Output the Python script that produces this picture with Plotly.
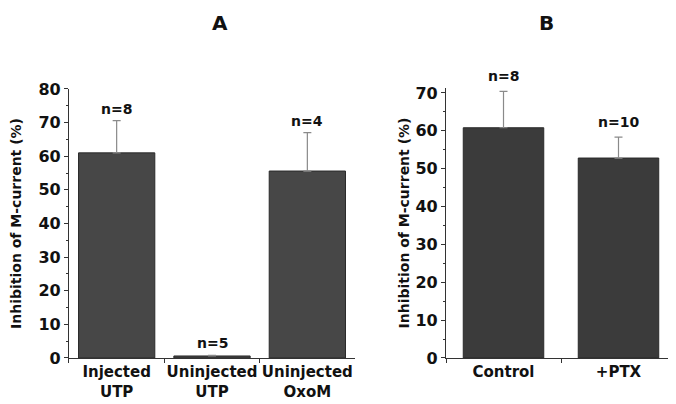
import plotly.graph_objects as go

# Panel A data
cats_a = ["Injected<br>UTP", "Uninjected<br>UTP", "Uninjected<br>OxoM"]
vals_a = [61.0, 0.6, 55.6]
err_a = [9.6, 0.2, 11.4]
n_a = ["n=8", "n=5", "n=4"]

# Panel B data
cats_b = ["Control", "+PTX"]
vals_b = [60.8, 52.8]
err_b = [9.6, 5.5]
n_b = ["n=8", "n=10"]

FONT = "DejaVu Sans, Arial, sans-serif"
ax_col = "#333333"

fig = go.Figure()
fig.add_trace(go.Bar(
    x=cats_a, y=vals_a, width=0.8, xaxis="x", yaxis="y",
    marker=dict(color="#474747", line=dict(color="#2a2a2a", width=1)),
    error_y=dict(type="data", array=err_a, arrayminus=[0]*3, symmetric=False,
                 color="#8a8a8a", thickness=1.2, width=4),
    showlegend=False))
fig.add_trace(go.Bar(
    x=cats_b, y=vals_b, width=0.7, xaxis="x2", yaxis="y2",
    marker=dict(color="#3b3b3b", line=dict(color="#2a2a2a", width=1)),
    error_y=dict(type="data", array=err_b, arrayminus=[0]*2, symmetric=False,
                 color="#8a8a8a", thickness=1.2, width=4),
    showlegend=False))

ann = []
for c, v, e, t in zip(cats_a, vals_a, err_a, n_a):
    ann.append(dict(x=c, y=v + e, xref="x", yref="y", text=t, showarrow=False,
                    yanchor="bottom", yshift=2,
                    font=dict(family=FONT, size=14, color="#111", weight="bold")))
for c, v, e, t in zip(cats_b, vals_b, err_b, n_b):
    ann.append(dict(x=c, y=v + e, xref="x2", yref="y2", text=t, showarrow=False,
                    yanchor="bottom", yshift=5,
                    font=dict(family=FONT, size=14, color="#111", weight="bold")))
ann.append(dict(x=0.3024, y=0.962, xref="paper", yref="paper", text="A", showarrow=False,
                yanchor="middle",
                font=dict(family=FONT, size=20, color="#111", weight="bold")))
ann.append(dict(x=0.820, y=0.962, xref="paper", yref="paper", text="B", showarrow=False,
                yanchor="middle",
                font=dict(family=FONT, size=20, color="#111", weight="bold")))

def yax(standoff):
    return dict(
        showline=True, linecolor=ax_col, linewidth=1.2, ticks="outside", ticklen=4,
        tickcolor=ax_col, showgrid=False, zeroline=False, dtick=10, automargin=False,
        tickfont=dict(family=FONT, size=16, color="#111", weight="bold"),
        minor=dict(dtick=5, ticks="outside", ticklen=2, tickcolor=ax_col),
        title=dict(text="Inhibition of M-current (%)", standoff=standoff,
                   font=dict(family=FONT, size=14, color="#111", weight="bold")),
    )

xax_common = dict(
    showline=True, linecolor=ax_col, linewidth=1.2, ticks="outside", ticklen=4,
    tickcolor=ax_col, tickson="boundaries", showgrid=False, automargin=False,
    tickangle=0,
    tickfont=dict(family=FONT, size=15, color="#111", weight="bold"),
)

fig.update_layout(
    width=668, height=396, margin=dict(l=0, r=0, t=0, b=0),
    plot_bgcolor="white", paper_bgcolor="white",
    annotations=ann,
    xaxis=dict(domain=[0.0913, 0.5195], anchor="y", **xax_common),
    yaxis=dict(domain=[0.1162, 0.7955], anchor="x", range=[0, 80], **yax(18)),
    xaxis2=dict(domain=[0.6557, 1.0], anchor="y2", **xax_common),
    yaxis2=dict(domain=[0.1162, 0.798], anchor="x2", range=[0, 71.3], **yax(2)),
)

fig.write_html("out.html")
